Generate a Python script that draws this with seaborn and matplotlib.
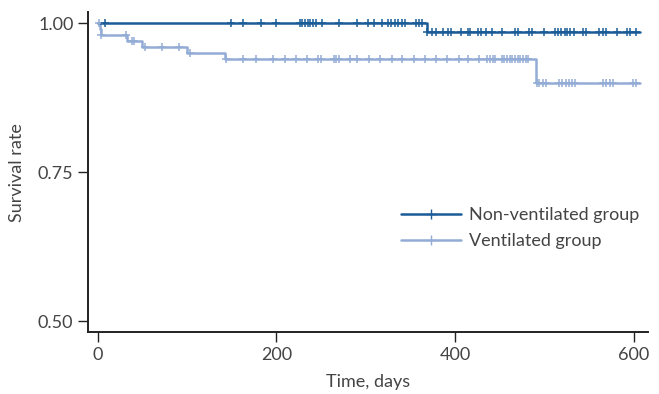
import numpy as np
import pandas as pd
import seaborn as sns
import matplotlib.pyplot as plt
from matplotlib.lines import Line2D

# Kaplan-Meier step points (day, survival)
nonvent_days = [0, 368, 607]
nonvent_surv = [1.0, 0.985, 0.985]
vent_days = [0, 2, 4, 33, 50, 100, 142, 491, 607]
vent_surv = [1.0, 0.99, 0.98, 0.97, 0.96, 0.95, 0.94, 0.90, 0.90]

# censored observations (days)
nonvent_censor = [8, 149, 162, 183, 199, 226, 229, 232, 235, 238, 241, 244, 251, 270,
                  290, 302, 309, 318, 325, 328, 333, 336, 340, 344, 356, 359, 363, 368,
                  374, 379, 386, 392, 395, 407, 414, 417, 426, 429, 435, 441, 452, 467,
                  470, 483, 486, 499, 512, 515, 519, 523, 525, 529, 533, 543, 547, 561,
                  565, 569, 581, 592, 596, 602]
vent_censor = [1, 4, 32, 38, 41, 53, 72, 91, 103, 143, 163, 177, 196, 209, 222, 234,
               247, 250, 264, 267, 270, 282, 290, 304, 316, 329, 341, 354, 366, 378,
               391, 404, 414, 427, 436, 439, 442, 445, 452, 455, 458, 461, 464, 467,
               470, 473, 476, 479, 482, 492, 494, 498, 502, 516, 520, 524, 527, 531,
               534, 565, 569, 573, 577, 599, 602]

groups = ['Non-ventilated group', 'Ventilated group']
colors = ['#1b5c98', '#93acd6']

sns.set_style('ticks')
plt.rcParams['font.family'] = ['Lato', 'DejaVu Sans']

fig = plt.figure(figsize=(6.59, 3.94), dpi=100)
ax = fig.add_axes([0.1335, 0.157, 0.85, 0.812])

curves = [(nonvent_days, nonvent_surv, nonvent_censor),
          (vent_days, vent_surv, vent_censor)]
# draw ventilated first so non-ventilated sits on top
for i in [1, 0]:
    days, surv, cens = curves[i]
    steps = pd.DataFrame({'day': days, 'surv': surv})
    sns.lineplot(data=steps, x='day', y='surv', drawstyle='steps-post', color=colors[i],
                 linewidth=1.8, estimator=None, ax=ax)
    idx = np.searchsorted(days, cens, side='right') - 1
    marks = pd.DataFrame({'day': cens, 'surv': np.array(surv)[idx]})
    sns.scatterplot(data=marks, x='day', y='surv', marker='+', s=40, color=colors[i],
                    linewidth=1.1, ax=ax, zorder=3)

ax.set_xlim(-11, 616)
ax.set_ylim(0.4815, 1.0185)
ax.set_xticks([0, 200, 400, 600])
ax.set_yticks([0.5, 0.75, 1.0])
ax.set_yticklabels(['0.50', '0.75', '1.00'])
ax.tick_params(labelsize=13, length=7.5, width=1, pad=3, color='#222222',
               labelcolor='#444444')
ax.set_xlabel('Time, days', fontsize=13, color='#444444', labelpad=8)
ax.set_ylabel('Survival rate', fontsize=13, color='#444444', labelpad=9)
for s in ['left', 'bottom']:
    ax.spines[s].set_linewidth(1.4)
    ax.spines[s].set_color('#222222')
sns.despine(ax=ax)

handles = [Line2D([], [], color=c, linewidth=1.8, marker='+', markersize=7) for c in colors]
leg = ax.legend(handles, groups, loc='center left', bbox_to_anchor=(0.53, 0.325),
                frameon=False, fontsize=13, handlelength=3.3, labelspacing=0.55,
                handletextpad=0.45, numpoints=1)
for t in leg.get_texts():
    t.set_color('#444444')

fig.savefig('out.png', dpi=100)
